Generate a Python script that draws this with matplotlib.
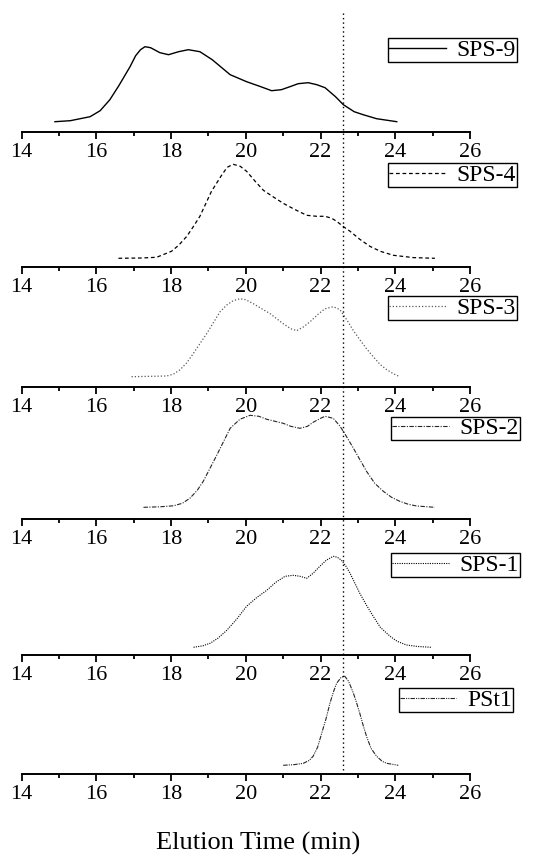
import matplotlib
matplotlib.use("Agg")
import matplotlib.pyplot as plt
from matplotlib.lines import Line2D
from matplotlib.transforms import blended_transform_factory

plt.rcParams['font.family'] = ['Liberation Serif', 'DejaVu Serif']

# --- data (time in min, detector signal in arbitrary units) ---
names = ["SPS-9", "SPS-4", "SPS-3", "SPS-2", "SPS-1", "PSt1"]

t_sps9 = [14.89, 15.3, 15.83, 16.1, 16.36, 16.6, 16.9, 17.05, 17.18, 17.3, 17.45, 17.7, 17.93,
          18.2, 18.46, 18.77, 19.1, 19.58, 20.02, 20.4, 20.69, 20.95, 21.18, 21.4, 21.67,
          21.9, 22.12, 22.4, 22.61, 22.9, 23.14, 23.5, 24.04]
s_sps9 = [0, 1, 5, 11, 22, 36, 55, 66, 72, 75, 74, 69, 67,
          70, 72, 70, 62, 47, 40, 35, 31, 32, 35, 38, 39,
          37, 34, 25, 17, 10, 7, 3, 0]

t_sps4 = [16.59, 17.2, 17.61, 18.01, 18.2, 18.42, 18.6, 18.77, 19.08, 19.35, 19.5, 19.66,
          19.85, 20.02, 20.25, 20.47, 20.75, 21.0, 21.3, 21.63, 21.9, 22.12, 22.3, 22.43,
          22.6, 22.79, 23.05, 23.32, 23.6, 23.95, 24.48, 25.06]
s_sps4 = [0, 0.3, 1, 7, 13, 22, 32, 42, 67, 83, 91, 94,
          92, 87, 77, 68, 61, 55, 49, 43, 42, 42, 40, 37,
          32, 27, 19, 12, 7, 3, 0.7, 0]

t_sps3 = [16.94, 17.88, 18.06, 18.24, 18.42, 18.59, 18.95, 19.31, 19.5, 19.66, 19.84, 20.0,
          20.2, 20.65, 21.0, 21.2, 21.36, 21.55, 21.72, 21.95, 22.12, 22.34, 22.52, 22.7,
          22.88, 23.05, 23.23, 23.41, 23.6, 23.77, 23.95, 24.12]
s_sps3 = [0, 0.7, 2.5, 7, 14, 23, 43, 65, 72, 76, 78, 77,
          73, 63, 53, 48, 46, 50, 55, 63, 68, 70, 67, 57,
          46, 37, 28, 20, 12, 7, 3, 0]

t_sps2 = [17.26, 17.7, 18.06, 18.3, 18.5, 18.7, 18.86, 19.22, 19.58, 19.84, 20.11, 20.35,
          20.56, 21.0, 21.2, 21.45, 21.65, 21.8, 22.0, 22.12, 22.34, 22.5, 22.61, 22.88,
          23.23, 23.45, 23.68, 23.9, 24.12, 24.35, 24.57, 25.06]
s_sps2 = [0, 0.5, 1.5, 4, 9, 17, 26, 52, 79, 88, 92, 91,
          88, 84, 81, 79, 81, 85, 89, 91, 89, 82, 76, 59,
          36, 24, 16, 10, 6, 3, 1.3, 0]

t_sps1 = [18.6, 18.85, 19.04, 19.25, 19.49, 19.75, 20.02, 20.3, 20.56, 20.8, 21.05, 21.27,
          21.45, 21.63, 21.8, 21.98, 22.15, 22.34, 22.45, 22.56, 22.68, 22.79, 23.05, 23.23,
          23.41, 23.6, 23.86, 24.05, 24.3, 24.6, 24.97]
s_sps1 = [0, 1.5, 4, 9, 17, 28, 41, 50, 57, 65, 71, 72,
          71, 69, 74, 81, 87, 91, 90, 87, 81, 74, 54, 42,
          31, 20, 11, 6, 2.3, 0.8, 0]

t_pst1 = [21.0, 21.3, 21.54, 21.7, 21.8, 21.92, 22.03, 22.15, 22.25, 22.35, 22.43, 22.55,
          22.65, 22.75, 22.88, 22.96, 23.05, 23.14, 23.23, 23.35, 23.5, 23.65, 23.77, 24.08]
s_pst1 = [0, 0.7, 2, 5, 9, 18, 32, 47, 62, 74, 82, 88,
          89, 84, 72, 63, 52, 40, 29, 17, 9, 4, 2, 0]

times = [t_sps9, t_sps4, t_sps3, t_sps2, t_sps1, t_pst1]
signals = [s_sps9, s_sps4, s_sps3, s_sps2, s_sps1, s_pst1]
ref_time = 22.59  # dotted marker line

# --- layout (pixels of the 558x859 picture) ---
W, H = 558, 859
axis_y = [131.7, 266.7, 386.7, 519.0, 655.0, 774.3]
base_off = [10, 8.4, 10, 11.7, 7.7, 9]
panel_h = 110
x_left, x_right = 21.7, 470.0
leg_right = [517, 517, 517, 520, 520, 513]
leg_cy = [50, 175, 308, 428.5, 565, 700]

styles = [
    dict(color='black', lw=1.0, linestyle='-'),
    dict(color='black', lw=0.9, linestyle=(0, (3, 2.2))),
    dict(color='0.35', lw=0.9, linestyle=(0, (1, 1.6))),
    dict(color='0.15', lw=0.8, linestyle=(0, (4, 1.3, 1, 1.3))),
    dict(color='black', lw=0.8, linestyle=(0, (1, 1.1))),
    dict(color='0.15', lw=0.8, linestyle=(0, (4, 1, 1, 1, 1, 1))),
]

fig = plt.figure(figsize=(W / 100, H / 100), dpi=100)

axes = []
for i in range(6):
    bottom = 1 - axis_y[i] / H
    ax = fig.add_axes([x_left / W, bottom, (x_right - x_left) / W, panel_h / H])
    ax.set_facecolor('none')
    ax.plot(times[i], signals[i], label=names[i], clip_on=False, **styles[i])
    ax.set_xlim(14, 26)
    ax.set_ylim(-base_off[i], panel_h - base_off[i])
    for s in ['left', 'right', 'top']:
        ax.spines[s].set_visible(False)
    ax.spines['bottom'].set_linewidth(1.4)
    ax.set_yticks([])
    ax.set_xticks(range(14, 27, 2))
    ax.set_xticks(range(15, 26, 2), minor=True)
    ax.tick_params(axis='x', which='major', direction='out', length=5, width=1.3,
                   labelsize=16, pad=3)
    ax.tick_params(axis='x', which='minor', direction='out', length=2.8, width=1.3)
    leg = ax.legend(loc='center right',
                    bbox_to_anchor=(leg_right[i] / W, 1 - leg_cy[i] / H),
                    bbox_transform=fig.transFigure, borderaxespad=0,
                    fontsize=17, frameon=True, fancybox=False, framealpha=1,
                    edgecolor='black', borderpad=0.05, handlelength=2.4,
                    handletextpad=0.45)
    leg.get_frame().set_linewidth(1.0)
    leg.set_zorder(5)
    axes.append(ax)

# vertical reference line across all panels
tr = blended_transform_factory(axes[0].transData, fig.transFigure)
vline = Line2D([ref_time, ref_time], [1 - 13 / H, 1 - 772 / H], transform=tr,
               color='black', lw=1.0, linestyle=(0, (1, 2.2)))
fig.add_artist(vline)

fig.text(258 / W, 1 - 843 / H, "Elution Time (min)", ha='center', va='center', fontsize=19)

fig.savefig("out.png", dpi=100)
